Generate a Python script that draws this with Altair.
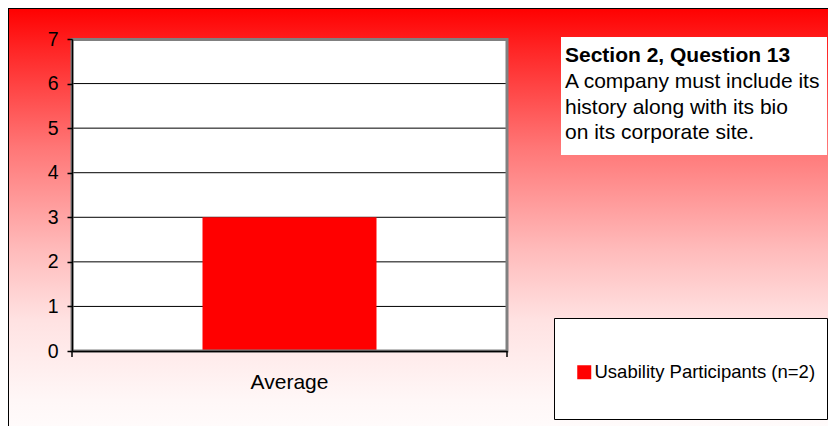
import altair as alt
import pandas as pd

# ---- data ----
CATEGORIES = ["Average"]
VALUES = [3]
SERIES = ["Usability Participants (n=2)"]
Y_TICKS = [0, 1, 2, 3, 4, 5, 6, 7]
GRID_VALUES = [1, 2, 3, 4, 5, 6]
TITLE = "Section 2, Question 13"
BODY_LINES = ["A company must include its", "history along with its bio", "on its corporate site."]

FONT = "Liberation Sans"
W, H = 435, 312

bars = pd.DataFrame({"category": CATEGORIES, "value": VALUES, "series": SERIES})
grid = pd.DataFrame({"v": GRID_VALUES})
one = alt.Data(values=[{"a": 1}])

yscale = alt.Scale(domain=[0, 7], nice=False, zero=True)
yaxis = alt.Axis(values=Y_TICKS, grid=False, tickSize=5, tickColor="black", tickWidth=1.5,
                 labelFontSize=19.5, labelFont=FONT, labelColor="black",
                 labelPadding=9, domainColor="black", domainWidth=1.5, zindex=1)

bg = alt.Chart(one).mark_rect(
    fill=alt.Gradient(
        gradient="linear",
        stops=[alt.GradientStop(color="#ff0000", offset=0),
               alt.GradientStop(color="#ff2626", offset=0.1),
               alt.GradientStop(color="#ff7676", offset=0.33),
               alt.GradientStop(color="#ffbaba", offset=0.57),
               alt.GradientStop(color="#ffe2e2", offset=0.74),
               alt.GradientStop(color="#fff7f7", offset=0.93),
               alt.GradientStop(color="#fffbfb", offset=1)],
        x1=0, x2=0, y1=0, y2=1,
    ),
    stroke="black", strokeWidth=2,
).encode(x=alt.value(-64), x2=alt.value(780), y=alt.value(-31), y2=alt.value(391))

plot_bg = alt.Chart(one).mark_rect(fill="white").encode(
    x=alt.value(0), x2=alt.value(W), y=alt.value(0), y2=alt.value(H))

grid_rules = alt.Chart(grid).mark_rule(color="black", strokeWidth=1).encode(
    y=alt.Y("v:Q", title=None, scale=yscale, axis=yaxis))

bar = alt.Chart(bars).mark_bar(color="#ff0000").encode(
    x=alt.X("category:N", title=None,
            scale=alt.Scale(paddingInner=0.6, paddingOuter=0.3),
            axis=alt.Axis(labelAngle=0, ticks=False, labelPadding=20, labelFontSize=21,
                          labelFont=FONT, labelColor="black", domainColor="black",
                          domainWidth=1.5, zindex=1)),
    y=alt.Y("value:Q", title=None, scale=yscale, axis=yaxis),
    color=alt.Color("series:N", scale=alt.Scale(domain=SERIES, range=["#ff0000"]),
                    legend=alt.Legend(title=None, orient="none", legendX=503, legendY=324,
                                      symbolType="square", symbolSize=196, symbolStrokeWidth=0,
                                      labelFontSize=18.5, labelFont=FONT, labelColor="black",
                                      labelOffset=1, labelLimit=0, padding=0, zindex=1)),
)

border = alt.Chart(one).mark_rect(fill=None, stroke="#808080", strokeWidth=3).encode(
    x=alt.value(0), x2=alt.value(W), y=alt.value(0.5), y2=alt.value(H))

tick_l = alt.Chart(one).mark_rule(color="black", strokeWidth=1.5).encode(
    x=alt.value(0), y=alt.value(H), y2=alt.value(H + 6))
tick_r = alt.Chart(one).mark_rule(color="black", strokeWidth=1.5).encode(
    x=alt.value(W), y=alt.value(H), y2=alt.value(H + 6))

text_box = alt.Chart(one).mark_rect(fill="white").encode(
    x=alt.value(489), x2=alt.value(755), y=alt.value(-2), y2=alt.value(116))
title_txt = alt.Chart(one).mark_text(
    text=TITLE, font=FONT, fontSize=21, fontWeight="bold", align="left",
    baseline="alphabetic", color="black").encode(x=alt.value(493), y=alt.value(23))
body_txt = alt.Chart(one).mark_text(
    text=BODY_LINES, font=FONT, fontSize=21, align="left", baseline="alphabetic",
    lineHeight=25.5, color="black").encode(x=alt.value(493), y=alt.value(49))

legend_box = alt.Chart(one).mark_rect(fill="white", stroke="black", strokeWidth=1).encode(
    x=alt.value(482.5), x2=alt.value(755.5), y=alt.value(279.5), y2=alt.value(380.5))

chart = alt.layer(
    bg, plot_bg, grid_rules, bar, border, tick_l, tick_r,
    text_box, title_txt, body_txt, legend_box,
).properties(
    width=W, height=H,
    autosize=alt.AutoSizeParams(type="none"),
    padding={"left": 64, "top": 31, "right": 321, "bottom": 75},
    background="white",
).configure_view(stroke=None)

chart.save("out.html", embed_options={"renderer": "svg", "actions": False})
